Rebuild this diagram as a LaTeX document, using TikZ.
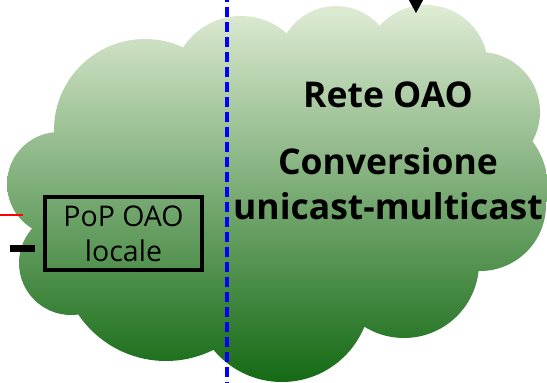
\documentclass[tikz,border=0pt]{standalone}
\usepackage{fontspec}
\setmainfont{Open Sans}
\usetikzlibrary{arrows.meta}
\definecolor{cloudtop}{RGB}{224,236,213}
\definecolor{cloudmid}{RGB}{145,180,105}
\definecolor{cloudbot}{RGB}{20,106,20}
\definecolor{dashblue}{RGB}{0,0,255}
\definecolor{linered}{RGB}{255,0,0}
\begin{document}
\begin{tikzpicture}[x=1pt,y=-1pt,
  cloudtxt/.style={font=\fontsize{35.5}{40}\selectfont\bfseries, anchor=base, inner sep=0pt},
  popbox/.style={draw=black, line width=4.5pt, minimum width=157pt, minimum height=73pt, inner sep=0pt, align=center, font=\fontsize{28.5}{35}\selectfont},
  bluedash/.style={draw=dashblue, line width=3.8pt, dash pattern=on 9.5pt off 5.5pt},
  redlink/.style={draw=linered, line width=2.5pt},
  blacklink/.style={draw=black, line width=7pt},
  toparrow/.style={draw=black, line width=1pt, -{Triangle[length=13pt,width=14pt]}}
]
\useasboundingbox (0,0) rectangle (547,383);
\clip (0,0) rectangle (547,383);
% cloud as a union of circles
\shade[top color=cloudtop, middle color=cloudmid, bottom color=cloudbot]
  (145,130) circle (91)
  (241,85) circle (69)
  (336,64) circle (58)
  (426,67) circle (62)
  (480,112) circle (60)
  (470,188) circle (78)
  (480,205) circle (66)
  (404,263) circle (75)
  (282,293) circle (89)
  (166,255) circle (106)
  (71,263) circle (52)
  (59,184) circle (52)
  (290,190) ellipse (200 and 120);
% dashed boundary
\coordinate (dashTop) at (227,-8);
\coordinate (dashBot) at (227,390);
\draw[bluedash] (dashTop) -- (dashBot);
% arrow from above
\coordinate (arrowStart) at (416,-30);
\coordinate (arrowEnd) at (416,13);
\draw[toparrow] (arrowStart) -- (arrowEnd);
% texts
\node[cloudtxt] (rete) at (388,107) {Rete OAO};
\node[cloudtxt] (conv) at (388,174) {Conversione};
\node[cloudtxt] (uni) at (388,219) {unicast-multicast};
\node[popbox] (pop) at (123.5,233.5) {PoP OAO\\locale};
% left links
\coordinate (redL) at (0,215);
\coordinate (redR) at (23,215);
\draw[redlink] (redL) -- (redR);
\coordinate (blkL) at (10,248.5);
\coordinate (blkR) at (35,248.5);
\draw[blacklink] (blkL) -- (blkR);
\end{tikzpicture}
\end{document}
